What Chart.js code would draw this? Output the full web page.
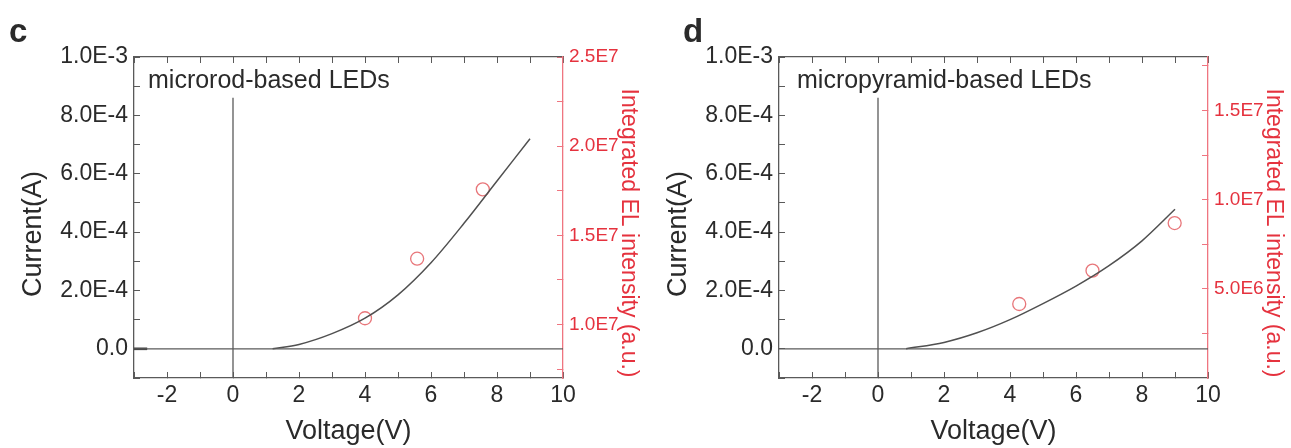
<!DOCTYPE html>
<html>
<head>
<meta charset="utf-8">
<script src="https://cdn.jsdelivr.net/npm/chart.js@4.4.1/dist/chart.umd.min.js"></script>
<style>
  html, body { margin: 0; padding: 0; background: #fff; }
  #wrap { position: relative; width: 1291px; height: 448px; overflow: hidden; }
  canvas { position: absolute; top: 0; }
  #chart-c { left: 0; }
  #chart-d { left: 645px; }
</style>
</head>
<body>
<div id="wrap">
  <canvas id="chart-c" width="645" height="448"></canvas>
  <canvas id="chart-d" width="646" height="448"></canvas>
</div>
<script>
'use strict';

// voltage axis (shared)
const voltMin = -3;
const voltMax = 10;
const voltTicks = [-2, 0, 2, 4, 6, 8, 10];
const voltMinor = [-3, -1, 1, 3, 5, 7, 9];

// current axis (shared)
const currentMin = -1e-4;
const currentMax = 1e-3;
const currentTicks = [0, 2e-4, 4e-4, 6e-4, 8e-4, 1e-3];
const currentLabels = ['0.0', '2.0E-4', '4.0E-4', '6.0E-4', '8.0E-4', '1.0E-3'];
const currentMinor = [-1e-4, 1e-4, 3e-4, 5e-4, 7e-4, 9e-4];

// guide lines (zero current, zero voltage)
const zeroLineVolt = [-3, 10];
const zeroVoltTop = 8.6e-4;

// panel c - microrod
const rodRevVolt = [-3, -2.6];
const rodRevCurrent = [0, 0];
const rodVolt = [1.2, 2, 3, 4, 5, 6, 7, 8, 9];
const rodCurrent = [0, 0.15e-4, 0.52e-4, 1.05e-4, 1.85e-4, 2.95e-4, 4.3e-4, 5.75e-4, 7.2e-4];
const rodElVolt = [4.0, 5.58, 7.57];
const rodEl = [1.035e7, 1.369e7, 1.758e7];
const rodElMin = 7.0e6;
const rodElMax = 2.5e7;
const rodElTicks = [1.0e7, 1.5e7, 2.0e7, 2.5e7];
const rodElLabels = ['1.0E7', '1.5E7', '2.0E7', '2.5E7'];
const rodElMinor = [7.5e6, 1.25e7, 1.75e7, 2.25e7];

// panel d - micropyramid
const pyrRevVolt = [];
const pyrRevCurrent = [];
const pyrVolt = [0.85, 2, 3, 4, 5, 6, 7, 8, 9];
const pyrCurrent = [0, 0.22e-4, 0.55e-4, 1.0e-4, 1.55e-4, 2.15e-4, 2.85e-4, 3.7e-4, 4.78e-4];
const pyrElVolt = [4.28, 6.5, 8.99];
const pyrEl = [4.15e6, 6.02e6, 8.69e6];
const pyrElMin = 0;
const pyrElMax = 1.8e7;
const pyrElTicks = [5e6, 1.0e7, 1.5e7];
const pyrElLabels = ['5.0E6', '1.0E7', '1.5E7'];
const pyrElMinor = [2.5e6, 7.5e6, 1.25e7, 1.75e7];

const FONT = "'Liberation Sans', Arial, sans-serif";
const DARK = '#2a2a2a';
const FRAME = '#5a5a5a';
const RED = '#e5323e';
const RED_LINE = '#ef7580';
const CIRCLE = '#e8767a';

function toPoints(xs, ys) {
  let pts = [];
  for (let i = 0; i < xs.length; i++) {
    pts.push({ x: xs[i], y: ys[i] });
  }
  return pts;
}

function setTicks(values) {
  return function (axis) {
    axis.ticks = values.slice().sort((a, b) => a - b).map(v => ({ value: v }));
  };
}

// panel letter, inside note and the two vertical titles
const panelText = {
  id: 'panelText',
  afterDraw(chart) {
    const o = chart.options.plugins.panelText;
    const ctx = chart.ctx;
    ctx.save();
    ctx.fillStyle = DARK;
    ctx.textBaseline = 'alphabetic';
    ctx.textAlign = 'left';
    ctx.font = 'bold 33px ' + FONT;
    ctx.fillText(o.letter, o.letterX, 42);
    ctx.font = '25px ' + FONT;
    ctx.fillText(o.note, o.noteX, 88);

    ctx.textAlign = 'center';
    ctx.textBaseline = 'middle';
    ctx.font = '27px ' + FONT;
    ctx.save();
    ctx.translate(34, 234);
    ctx.rotate(-Math.PI / 2);
    ctx.fillText('Current(A)', 0, 0);
    ctx.restore();

    ctx.fillStyle = RED;
    ctx.font = '23px ' + FONT;
    ctx.save();
    ctx.translate(628, 233);
    ctx.rotate(Math.PI / 2);
    ctx.fillText('Integrated EL intensity (a.u.)', 0, 0);
    ctx.restore();
    ctx.restore();
  }
};

function makeChart(id, p) {
  const ctx = document.getElementById(id);
  const canvasWidth = ctx.width;
  return new Chart(ctx, {
    type: 'scatter',
    data: {
      datasets: [
        {
          data: toPoints(zeroLineVolt, [0, 0]),
          showLine: true, borderColor: FRAME, borderWidth: 1.3, pointRadius: 0
        },
        {
          data: toPoints([0, 0], [currentMin, zeroVoltTop]),
          showLine: true, borderColor: FRAME, borderWidth: 1.3, pointRadius: 0
        },
        {
          data: toPoints(p.revVolt, p.revCurrent),
          showLine: true, borderColor: '#3a3a3a', borderWidth: 2.6, pointRadius: 0
        },
        {
          data: toPoints(p.volt, p.current),
          showLine: true, borderColor: '#505050', borderWidth: 1.5, pointRadius: 0,
          cubicInterpolationMode: 'monotone'
        },
        {
          data: toPoints(p.elVolt, p.el),
          yAxisID: 'y2',
          showLine: false, pointStyle: 'circle', pointRadius: 6.5,
          pointBorderWidth: 1.3, borderColor: CIRCLE, backgroundColor: 'rgba(0,0,0,0)'
        }
      ]
    },
    options: {
      responsive: false,
      animation: false,
      devicePixelRatio: 1,
      layout: { padding: 0 },
      plugins: {
        legend: { display: false },
        tooltip: { enabled: false },
        panelText: { letter: p.letter, letterX: p.letterX, note: p.note, noteX: p.noteX }
      },
      scales: {
        x: {
          type: 'linear', position: 'bottom', min: voltMin, max: voltMax,
          afterBuildTicks: setTicks(voltTicks.concat(voltMinor)),
          afterFit: (s) => { s.height = 70; },
          border: { color: FRAME, width: 1.3 },
          grid: { drawOnChartArea: false, drawTicks: true, tickLength: -6, tickColor: FRAME },
          ticks: {
            autoSkip: false, maxRotation: 0, padding: 10, color: DARK,
            font: { family: FONT, size: 23 },
            callback: (v) => voltTicks.includes(v) ? String(v) : ''
          },
          title: {
            display: true, text: 'Voltage(V)', color: DARK,
            font: { family: FONT, size: 27 }, padding: 0
          }
        },
        xTop: {
          type: 'linear', position: 'top', min: voltMin, max: voltMax,
          afterBuildTicks: setTicks(voltTicks.concat(voltMinor)),
          afterFit: (s) => { s.height = 57; },
          border: { color: FRAME, width: 1.3 },
          grid: { drawOnChartArea: false, drawTicks: true, tickLength: -6, tickColor: FRAME },
          ticks: { autoSkip: false, callback: () => '' }
        },
        y: {
          type: 'linear', position: 'left', min: currentMin, max: currentMax,
          afterBuildTicks: setTicks(currentTicks.concat(currentMinor)),
          afterFit: (s) => { s.width = 134; },
          border: { color: FRAME, width: 1.3 },
          grid: { drawOnChartArea: false, drawTicks: true, tickLength: -6, tickColor: FRAME },
          ticks: {
            autoSkip: false, padding: 12, color: DARK,
            font: { family: FONT, size: 23 },
            callback: (v) => {
              const i = currentTicks.indexOf(v);
              return i >= 0 ? currentLabels[i] : '';
            }
          }
        },
        y2: {
          type: 'linear', position: 'right', min: p.elMin, max: p.elMax,
          afterBuildTicks: setTicks(p.elTicks.concat(p.elMinor)),
          afterFit: (s) => { s.width = canvasWidth - 563; },
          border: { color: RED_LINE, width: 1.3 },
          grid: { drawOnChartArea: false, drawTicks: true, tickLength: -6, tickColor: RED_LINE },
          ticks: {
            autoSkip: false, padding: 12, color: RED,
            font: { family: FONT, size: 19 },
            callback: (v) => {
              const i = p.elTicks.indexOf(v);
              return i >= 0 ? p.elLabels[i] : '';
            }
          }
        }
      }
    },
    plugins: [panelText]
  });
}

makeChart('chart-c', {
  letter: 'c', letterX: 9, note: 'microrod-based LEDs', noteX: 148,
  revVolt: rodRevVolt, revCurrent: rodRevCurrent,
  volt: rodVolt, current: rodCurrent, elVolt: rodElVolt, el: rodEl,
  elMin: rodElMin, elMax: rodElMax, elTicks: rodElTicks, elLabels: rodElLabels, elMinor: rodElMinor
});

makeChart('chart-d', {
  letter: 'd', letterX: 38, note: 'micropyramid-based LEDs', noteX: 152,
  revVolt: pyrRevVolt, revCurrent: pyrRevCurrent,
  volt: pyrVolt, current: pyrCurrent, elVolt: pyrElVolt, el: pyrEl,
  elMin: pyrElMin, elMax: pyrElMax, elTicks: pyrElTicks, elLabels: pyrElLabels, elMinor: pyrElMinor
});
</script>
</body>
</html>
